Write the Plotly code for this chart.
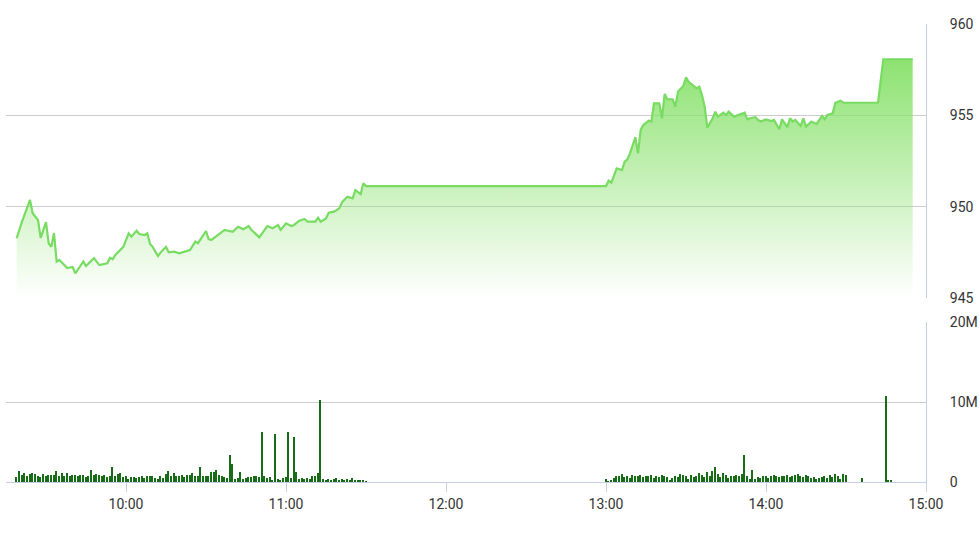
import plotly.graph_objects as go
import pandas as pd

DAY = "2018-10-10 "

# ---- price (index) series ----
price_times = [
    "09:19", "09:21", "09:24", "09:25", "09:27", "09:28", "09:30", "09:31", "09:32", "09:33",
    "09:34", "09:35", "09:38", "09:40", "09:41", "09:44", "09:45", "09:48", "09:50", "09:53",
    "09:54", "09:55", "09:56", "09:59", "10:01", "10:02", "10:04", "10:05", "10:07", "10:08",
    "10:09", "10:10", "10:12", "10:13", "10:15", "10:16", "10:18", "10:20", "10:22", "10:24",
    "10:26", "10:27", "10:30", "10:31", "10:32", "10:35", "10:37", "10:40", "10:42", "10:44",
    "10:46", "10:47", "10:50", "10:53", "10:55", "10:57", "10:58", "11:00", "11:02", "11:03",
    "11:05", "11:07", "11:08", "11:11", "11:12", "11:13", "11:15", "11:16", "11:18", "11:20",
    "11:21", "11:23", "11:25", "11:26", "11:28", "11:29", "11:30",
    "13:00", "13:01", "13:02", "13:04", "13:06", "13:07", "13:08", "13:09", "13:11", "13:12",
    "13:13", "13:14", "13:16", "13:17", "13:18", "13:20", "13:21", "13:22", "13:23", "13:25",
    "13:26", "13:27", "13:29", "13:30", "13:31", "13:32", "13:34", "13:35", "13:36", "13:37",
    "13:38", "13:40", "13:41", "13:42", "13:44", "13:45", "13:46", "13:48", "13:50", "13:52",
    "13:53", "13:54", "13:56", "13:57", "13:58", "14:00", "14:02", "14:03", "14:05", "14:06",
    "14:08", "14:09", "14:10", "14:11", "14:13", "14:14", "14:15", "14:17", "14:19", "14:21",
    "14:22", "14:23", "14:25", "14:26", "14:28", "14:29", "14:42", "14:44", "14:55",
]
price_values = [
    948.27, 949.18, 950.37, 949.64, 949.27, 948.29, 949.16, 948.00, 947.80, 948.56,
    946.99, 947.08, 946.64, 946.70, 946.35, 947.00, 946.75, 947.18, 946.80, 946.90,
    947.20, 947.12, 947.36, 947.80, 948.54, 948.36, 948.69, 948.50, 948.45, 948.54,
    947.96, 947.80, 947.30, 947.50, 947.80, 947.50, 947.54, 947.45, 947.54, 947.63,
    948.09, 948.00, 948.67, 948.23, 948.18, 948.50, 948.73, 948.63, 948.90, 948.77,
    948.94, 948.73, 948.32, 948.94, 948.82, 949.00, 948.73, 949.09, 948.94, 949.00,
    949.23, 949.33, 949.18, 949.18, 949.40, 949.18, 949.36, 949.67, 949.73, 949.91,
    950.24, 950.55, 950.46, 950.91, 950.69, 951.28, 951.13,
    951.13, 951.42, 951.31, 952.10, 952.00, 952.46, 952.59, 952.92, 953.80, 952.92,
    954.20, 954.47, 954.71, 954.66, 955.66, 955.66, 954.84, 956.17, 955.88, 955.88,
    955.47, 956.30, 956.61, 957.08, 956.84, 956.72, 956.48, 956.57, 956.11, 955.47,
    954.32, 954.84, 955.20, 954.93, 955.15, 955.02, 955.20, 954.93, 955.02, 955.15,
    954.78, 954.84, 954.90, 954.75, 954.66, 954.78, 954.69, 954.75, 954.24, 954.78,
    954.35, 954.84, 954.66, 954.75, 954.42, 954.84, 954.38, 954.66, 954.53, 954.97,
    954.78, 955.02, 955.11, 955.69, 955.80, 955.69, 955.69, 958.07, 958.07,
]

# ---- volume (millions), one bar per minute ----
vol_am_start = "09:19"   # 09:19 .. 11:30
vol_am = [
    0.6, 1.4, 0.9, 1.1, 0.8, 1.0, 1.1, 1.0, 0.7, 0.6,
    1.0, 0.7, 0.9, 0.9, 0.9, 1.4, 0.7, 1.1, 0.8, 1.1,
    0.7, 0.9, 0.9, 0.8, 0.9, 0.9, 0.6, 0.8, 1.5, 0.9,
    1.0, 0.9, 0.8, 0.9, 0.6, 0.8, 1.9, 0.7, 1.0, 1.1,
    0.6, 0.8, 0.4, 0.6, 0.6, 0.5, 0.6, 0.7, 0.5, 0.7,
    0.8, 0.7, 0.5, 0.4, 0.7, 0.5, 1.0, 1.4, 0.7, 1.1,
    0.8, 0.7, 0.9, 0.6, 0.9, 0.9, 1.1, 0.8, 0.7, 1.9,
    0.8, 0.7, 0.8, 1.2, 1.3, 1.5, 0.9, 0.7, 0.6, 0.5,
    3.4, 2.3, 0.4, 0.5, 1.3, 0.4, 0.5, 0.6, 0.6, 0.8,
    0.7, 0.6, 6.3, 0.8, 0.5, 0.6, 0.3, 6.0, 0.4, 0.3,
    0.5, 0.6, 6.2, 0.5, 5.6, 1.2, 0.4, 0.5, 0.4, 0.5,
    0.4, 0.7, 0.8, 1.1, 10.3, 0.4, 0.3, 0.4, 0.3, 0.4,
    0.5, 0.3, 0.4, 0.3, 0.4, 0.3, 0.5, 0.3, 0.3, 0.3,
    0.2, 0.1,
]
vol_pm_start = "13:00"   # 13:00 .. 14:30
vol_pm = [
    0.4, 0.1, 0.3, 0.5, 0.8, 0.7, 1.0, 0.6, 0.8, 0.5,
    0.9, 0.8, 0.7, 0.9, 0.6, 0.8, 0.7, 0.9, 0.5, 0.7,
    0.6, 0.9, 0.8, 0.6, 0.3, 0.5, 0.8, 0.6, 1.0, 0.9,
    0.7, 0.4, 0.9, 0.6, 0.8, 1.1, 0.9, 0.6, 1.2, 0.7,
    1.4, 1.9, 1.0, 0.6, 1.1, 0.9, 0.5, 0.8, 0.8, 0.9,
    0.7, 1.0, 3.4, 0.8, 0.4, 1.5, 0.4, 0.6, 0.5, 0.7,
    0.8, 0.5, 0.7, 0.9, 0.7, 0.6, 0.8, 0.7, 0.9, 0.6,
    0.8, 0.9, 1.0, 0.8, 0.6, 0.9, 0.7, 0.5, 0.6, 0.4,
    0.5, 0.6, 0.7, 0.5, 0.9, 0.6, 1.0, 0.8, 0.4, 1.0,
    0.9,
]
vol_late_times = ["14:36", "14:45", "14:46", "14:47"]
vol_late = [0.5, 10.7, 0.3, 0.2]

price_ticks = [945, 950, 955, 960]
vol_tickvals = [0, 10, 20]
vol_ticktext = ["0", "10M", "20M"]
x_tickvals = ["10:00", "11:00", "12:00", "13:00", "14:00", "15:00"]

# ---- build ----
px_t = pd.to_datetime([DAY + t for t in price_times])
am_t = pd.date_range(DAY + vol_am_start, periods=len(vol_am), freq="min")
pm_t = pd.date_range(DAY + vol_pm_start, periods=len(vol_pm), freq="min")
late_t = pd.to_datetime([DAY + t for t in vol_late_times])
vol_t = list(am_t) + list(pm_t) + list(late_t)
vol_v = vol_am + vol_pm + vol_late

LINE = "#78dc62"
GRID = "#cccccc"
AXIS = "#c6d0e2"
FONT = dict(family="Roboto, Arial, sans-serif", size=14, color="#333333")

fig = go.Figure()
fig.add_trace(go.Scatter(
    x=px_t, y=price_values, mode="lines",
    line=dict(color=LINE, width=2.2),
    fill="tozeroy",
    fillgradient=dict(type="vertical",
                      colorscale=[[0, "rgba(140,226,112,0)"], [1, "rgba(140,226,112,1)"]],
                      start=945, stop=958.1),
    xaxis="x", yaxis="y", hoverinfo="skip", showlegend=False,
))
fig.add_trace(go.Bar(
    x=vol_t, y=vol_v, width=36000,
    marker=dict(color="#186c18", line=dict(width=0)),
    xaxis="x2", yaxis="y2", showlegend=False,
))

rng = [DAY + "09:15", DAY + "15:00"]
fig.update_layout(
    width=980, height=550,
    margin=dict(l=6, r=54, t=24, b=68, autoexpand=False),
    paper_bgcolor="white", plot_bgcolor="white",
    font=FONT,
    bargap=0,
    xaxis=dict(domain=[0, 1], anchor="y", range=rng, type="date",
               showticklabels=False, showgrid=False, zeroline=False, showline=False,
               matches="x2", automargin=False),
    xaxis2=dict(domain=[0, 1], anchor="y2", range=rng, type="date",
                tickvals=[DAY + t for t in x_tickvals], tickformat="%H:%M",
                ticks="outside", ticklen=9, tickcolor=AXIS, tickwidth=1,
                showgrid=False, zeroline=False, automargin=False,
                showline=True, linecolor=AXIS, linewidth=1, tickfont=FONT),
    yaxis=dict(domain=[0.4017, 1], anchor="x", side="right", range=[945, 960],
               tickvals=price_ticks, showgrid=True, gridcolor=GRID, gridwidth=1,
               zeroline=False, showline=True, linecolor=AXIS, linewidth=1,
               automargin=False,
               ticks="", ticklabelstandoff=20, tickfont=FONT),
    yaxis2=dict(domain=[0, 0.3493], anchor="x2", side="right", range=[0, 20],
                tickvals=vol_tickvals, ticktext=vol_ticktext,
                showgrid=True, gridcolor=GRID, gridwidth=1,
                zeroline=False, showline=True, linecolor=AXIS, linewidth=1,
                automargin=False,
                ticks="", ticklabelstandoff=20, tickfont=FONT),
)

fig.write_html("out.html", config={"displayModeBar": False},
               post_script="document.body.style.margin='0';")
